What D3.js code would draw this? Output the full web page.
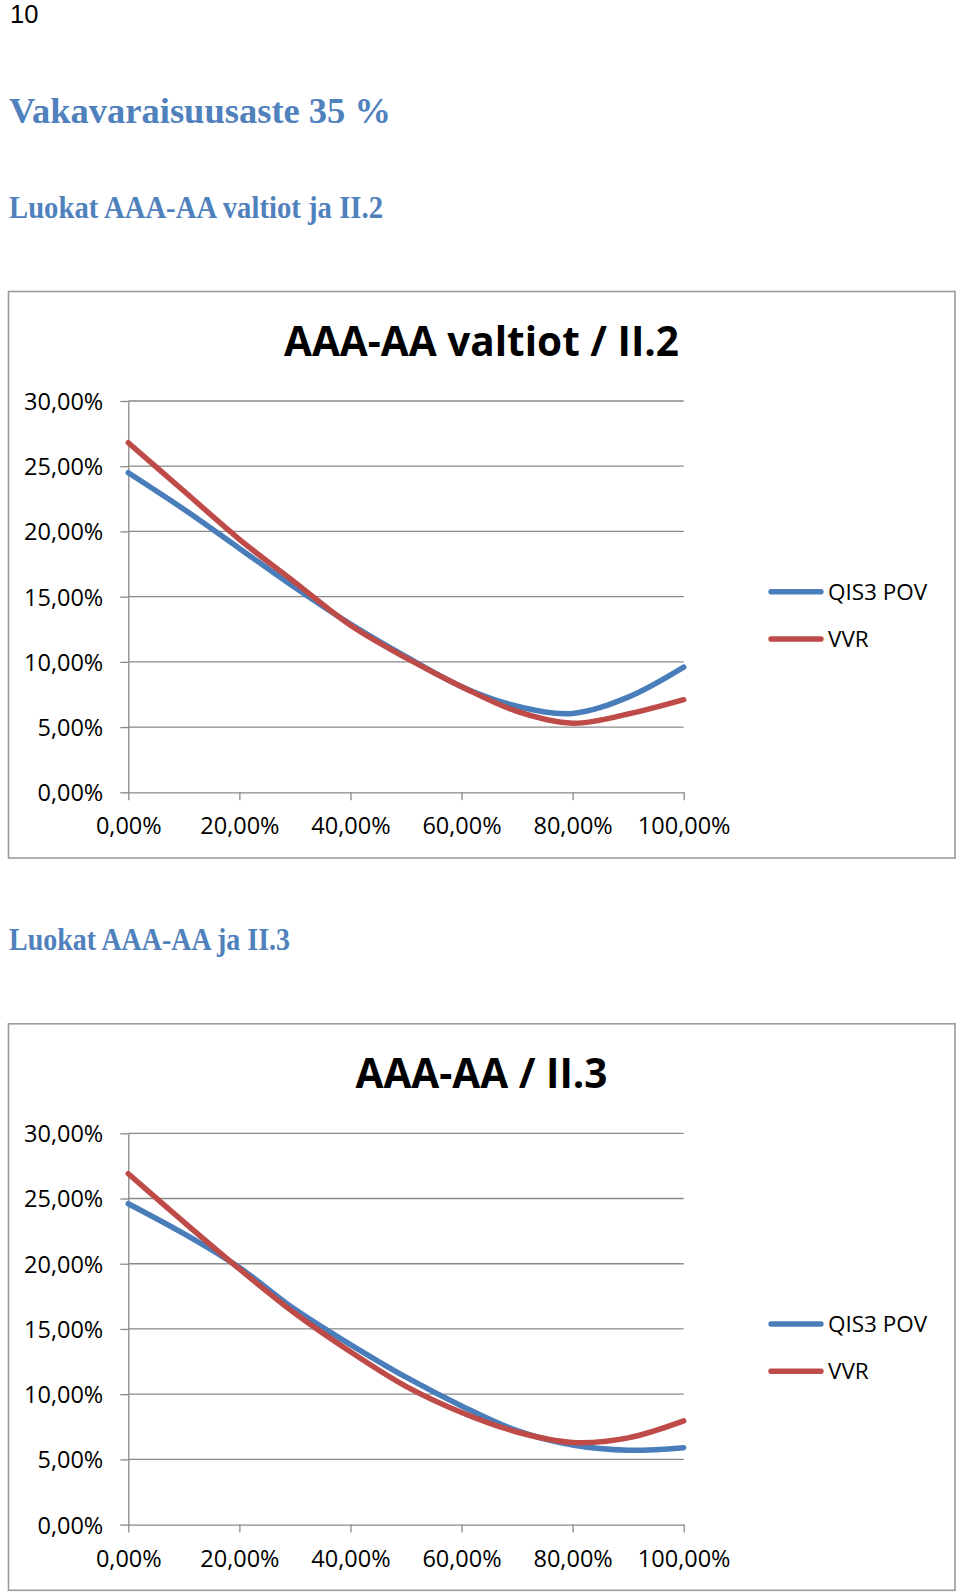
<!DOCTYPE html>
<html>
<head>
<meta charset="utf-8">
<script src="https://cdn.jsdelivr.net/npm/d3@7"></script>
<style>
  html, body { margin: 0; padding: 0; background: #fff; }
  svg { display: block; }
</style>
</head>
<body>
<svg id="chart" width="960" height="1596"></svg>
<script>
// ---- Data ----
const xValues = [0, 10, 20, 30, 40, 50, 60, 70, 80, 90, 100];
const seriesNames = ["QIS3 POV", "VVR"];

// Chart 1: AAA-AA valtiot / II.2
const chart1QIS3 = [24.5, 21.7, 18.7, 15.7, 12.9, 10.4, 8.1, 6.6, 6.05, 7.3, 9.6];
const chart1VVR  = [26.8, 23.1, 19.4, 16.1, 12.8, 10.3, 8.1, 6.2, 5.3, 6.0, 7.1];

// Chart 2: AAA-AA / II.3
const chart2QIS3 = [24.6, 22.3, 19.7, 16.5, 13.8, 11.3, 9.1, 7.2, 6.1, 5.7, 5.9];
const chart2VVR  = [26.9, 23.2, 19.6, 16.2, 13.25, 10.6, 8.6, 7.1, 6.3, 6.65, 7.95];

const yTicks = [0, 5, 10, 15, 20, 25, 30];
const xTicks = [0, 20, 40, 60, 80, 100];

const pageNumber = "10";
const heading = "Vakavaraisuusaste 35 %";
const subheading1 = "Luokat AAA-AA valtiot ja II.2";
const subheading2 = "Luokat AAA-AA ja II.3";
const chartTitle1 = "AAA-AA valtiot / II.2";
const chartTitle2 = "AAA-AA / II.3";

// ---- Drawing ----
const svg = d3.select("#chart");
const colors = ["#4A7EBB", "#BE4B48"];
const gray = "#898989";
const fmt = v => d3.format(".2f")(v).replace(".", ",") + "%";

svg.append("rect").attr("width", 960).attr("height", 1596).attr("fill", "#fff");

svg.append("text").attr("x", 10).attr("y", 23.3)
  .attr("font-family", "Liberation Sans, Arial, sans-serif").attr("font-size", 25.5)
  .attr("fill", "#000").text(pageNumber);

function headingText(txt, y, size, len) {
  svg.append("text").attr("x", 9).attr("y", y)
    .attr("font-family", "Liberation Serif, serif").attr("font-weight", "bold")
    .attr("font-size", size).attr("fill", "#4F81BD")
    .attr("textLength", len).attr("lengthAdjust", "spacingAndGlyphs")
    .text(txt);
}
headingText(heading, 123.3, 35, 382);
headingText(subheading1, 218.3, 32.5, 374);
headingText(subheading2, 950, 32.5, 281);

function drawChart(offsetY, title, qis, vvr) {
  const g = svg.append("g").attr("transform", `translate(0,${offsetY})`);
  // frame
  g.append("rect").attr("x", 8.5).attr("y", 291.5).attr("width", 946.5).attr("height", 566.5)
    .attr("fill", "#fff").attr("stroke", "#9a9a9a").attr("stroke-width", 1.6);

  const x = d3.scaleLinear().domain([0, 100]).range([128.3, 683.7]);
  const y = d3.scaleLinear().domain([0, 30]).range([792.3, 401]);

  // gridlines
  g.append("g").selectAll("line").data(yTicks.filter(d => d > 0)).join("line")
    .attr("x1", x(0)).attr("x2", x(100))
    .attr("y1", d => y(d)).attr("y2", d => y(d))
    .attr("stroke", gray).attr("stroke-width", 1.3);

  // y axis
  const yAxis = g.append("g").attr("transform", `translate(${x(0)},0)`)
    .call(d3.axisLeft(y).tickValues(yTicks).tickFormat(fmt).tickSize(8).tickSizeOuter(0).tickPadding(17));
  yAxis.select(".domain").attr("stroke", gray).attr("stroke-width", 1.3);
  yAxis.selectAll(".tick line").attr("stroke", gray).attr("stroke-width", 1.3);
  yAxis.selectAll(".tick text").attr("font-family", "Open Sans, sans-serif").attr("font-size", 23.5)
    .attr("fill", "#000").attr("dy", "0.36em");

  // x axis
  const xAxis = g.append("g").attr("transform", `translate(0,${y(0)})`)
    .call(d3.axisBottom(x).tickValues(xTicks).tickFormat(fmt).tickSize(8).tickSizeOuter(0));
  xAxis.select(".domain").attr("stroke", gray).attr("stroke-width", 1.3);
  xAxis.selectAll(".tick line").attr("stroke", gray).attr("stroke-width", 1.3);
  xAxis.selectAll(".tick text").attr("font-family", "Open Sans, sans-serif").attr("font-size", 23.5)
    .attr("fill", "#000").attr("y", 42).attr("dy", 0);

  // lines
  const line = d3.line().x((d, i) => x(xValues[i])).y(d => y(d)).curve(d3.curveCatmullRom.alpha(0.5));
  [qis, vvr].forEach((s, i) => {
    g.append("path").datum(s).attr("d", line).attr("fill", "none")
      .attr("stroke", colors[i]).attr("stroke-width", 5.5).attr("stroke-linecap", "round")
      .attr("stroke-linejoin", "round");
  });

  // title
  g.append("text").attr("x", 481.5).attr("y", 356).attr("text-anchor", "middle")
    .attr("font-family", "Open Sans, sans-serif").attr("font-weight", "bold")
    .attr("font-size", 40.5).attr("fill", "#000").text(title);

  // legend
  const legY = [591.7, 639];
  seriesNames.forEach((n, i) => {
    g.append("line").attr("x1", 771).attr("x2", 821).attr("y1", legY[i]).attr("y2", legY[i])
      .attr("stroke", colors[i]).attr("stroke-width", 5.4).attr("stroke-linecap", "round");
    g.append("text").attr("x", 828).attr("y", legY[i] + 7.8)
      .attr("font-family", "Open Sans, sans-serif").attr("font-size", 22.5).attr("fill", "#000").text(n);
  });
}

drawChart(0, chartTitle1, chart1QIS3, chart1VVR);
drawChart(732.3, chartTitle2, chart2QIS3, chart2VVR);
</script>
</body>
</html>
